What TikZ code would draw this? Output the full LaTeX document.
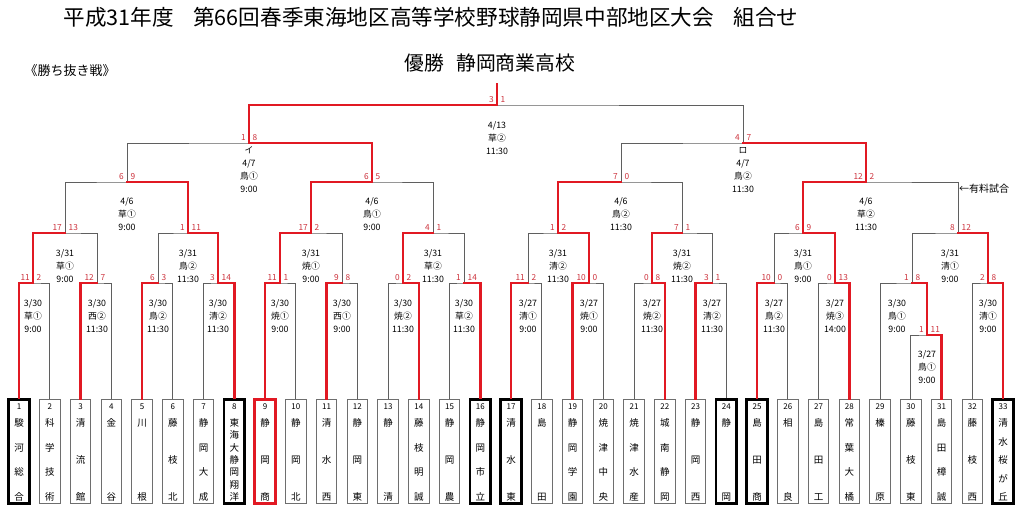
\documentclass[tikz,border=0pt]{standalone}
\usepackage{fontspec}
\setmainfont{Noto Sans CJK JP}
\definecolor{winred}{RGB}{225,25,35}
\definecolor{scorered}{RGB}{205,50,60}
\definecolor{rulegray}{RGB}{95,95,95}
\definecolor{boxgray}{RGB}{110,110,110}

% school names, one character under the other
\newcommand\stackchars[1]{\vbox to 81pt{\stackfirst#1\relax}}
\def\stackfirst#1{\stackcell{#1}\stacknext}
\def\stacknext#1{\ifx#1\relax\else\vfil\stackcell{#1}\expandafter\stacknext\fi}
\def\stackcell#1{\hbox to 12pt{\hss\vrule height 7pt depth 2pt width 0pt\smash{#1}\hss}}

\tikzset{
  bracket/.style={draw=rulegray, line width=0.75pt},
  win/.style={draw=winred, line width=2.5pt, line cap=rect},
  score/.style={text=scorered, font=\fontsize{8.3}{8.3}\selectfont, inner sep=0pt},
  info/.style={align=center, font=\fontsize{8.8}{13}\selectfont, inner sep=0pt},
  entry/.style={draw=boxgray, line width=0.8pt, minimum width=20.5pt, minimum height=104.5pt, inner sep=0pt},
  common/.style={},
  seeded/.style={draw=black, line width=2.6pt},
  champion/.style={draw=winred, line width=3pt},
  num/.style={font=\fontsize{8}{8}\selectfont, inner sep=0pt},
  chars/.style={font=\fontsize{9.5}{9.5}\selectfont, inner sep=0pt, anchor=north}
}

% match / left / right / winner (0 left, 1 right) / left score / right score
\def\bouts{z/t30.north/t31.north/1/1/11,
  a1/t1.north/t2.north/0/11/2, a2/t3.north/t4.north/0/12/7,
  a3/t5.north/t6.north/0/6/3, a4/t7.north/t8.north/1/3/14,
  a5/t9.north/t10.north/0/11/1, a6/t11.north/t12.north/0/9/8,
  a7/t13.north/t14.north/1/0/2, a8/t15.north/t16.north/1/1/14,
  a9/t17.north/t18.north/0/11/2, a10/t19.north/t20.north/0/10/0,
  a11/t21.north/t22.north/1/0/8, a12/t23.north/t24.north/0/3/1,
  a13/t25.north/t26.north/0/10/0, a14/t27.north/t28.north/1/0/13,
  a15/t29.north/z/1/1/8, a16/t32.north/t33.north/1/2/8,
  b1/a1/a2/0/17/13, b2/a3/a4/1/1/11, b3/a5/a6/0/17/2, b4/a7/a8/0/4/1,
  b5/a9/a10/1/1/2, b6/a11/a12/0/7/1, b7/a13/a14/1/6/9, b8/a15/a16/1/8/12,
  c1/b1/b2/1/6/9, c2/b3/b4/0/6/5, c3/b5/b6/0/7/0, c4/b7/b8/0/12/2,
  d1/c1/c2/1/1/8, d2/c3/c4/1/4/7,
  f/d1/d2/0/3/1}

\begin{document}
\begin{tikzpicture}[x=1pt,y=-1pt]
\useasboundingbox (0,0) rectangle (1024,511);
\fill[white] (0,0) rectangle (1024,511);

\node[font=\fontsize{21.6}{21.6}\selectfont] (title) at (431,17) {平成31年度\hspace{0.9em}第66回春季東海地区高等学校野球静岡県中部地区大会\hspace{0.9em}組合せ};
\node[font=\fontsize{19.8}{19.8}\selectfont] (winner) at (490,63) {優勝\hspace{0.6em}静岡商業高校};
\node[font=\fontsize{13}{13}\selectfont] (format) at (70,71) {《勝ち抜き戦》};
\node[font=\fontsize{10}{10}\selectfont] (paid) at (984,189) {←有料試合};

% schools
\foreach \i/\nm/\sty in {1/駿河総合/seeded, 2/科学技術/common, 3/清流館/common,
  4/金谷/common, 5/川根/common, 6/藤枝北/common, 7/静岡大成/common,
  8/東海大静岡翔洋/seeded, 9/静岡商/champion, 10/静岡北/common,
  11/清水西/common, 12/静岡東/common, 13/静清/common, 14/藤枝明誠/common,
  15/静岡農/common, 16/静岡市立/seeded, 17/清水東/seeded, 18/島田/common,
  19/静岡学園/common, 20/焼津中央/common, 21/焼津水産/common,
  22/城南静岡/common, 23/静岡西/common, 24/静岡/seeded, 25/島田商/seeded,
  26/相良/common, 27/島田工/common, 28/常葉大橘/common, 29/榛原/common,
  30/藤枝東/common, 31/島田樟誠/common, 32/藤枝西/common, 33/清水桜が丘/seeded}{
  \pgfmathsetmacro\bx{19+30.75*(\i-1)}
  \node[entry,\sty] (t\i) at (\bx,451.5) {};
  \node[num] (k\i) at (\bx,407) {\i};
  \node[chars] (c\i) at (\bx,419.4) {\expandafter\stackchars\expandafter{\nm}};
}

% matches: name / x / y / label x / label y / label
\foreach \n/\x/\y/\lx/\ly/\txt in {
  z/927/335/927/367/{3/27\\鳥①\\9:00},
  a1/33/283/33/316/{3/30\\草①\\9:00}, a2/97/283/97/316/{3/30\\西②\\11:30},
  a3/158/283/158/316/{3/30\\鳥②\\11:30}, a4/218/283/218/316/{3/30\\清②\\11:30},
  a5/280/283/280/316/{3/30\\焼①\\9:00}, a6/342/283/342/316/{3/30\\西①\\9:00},
  a7/403/283/403/316/{3/30\\焼②\\11:30}, a8/464/283/464/316/{3/30\\草②\\11:30},
  a9/528/283/528/316/{3/27\\清①\\9:00}, a10/589/283/589/316/{3/27\\焼①\\9:00},
  a11/652/283/652/316/{3/27\\焼②\\11:30}, a12/712/283/712/316/{3/27\\清②\\11:30},
  a13/774/283/774/316/{3/27\\鳥②\\11:30}, a14/835/283/835/316/{3/27\\焼③\\14:00},
  a15/912/283/897/316/{3/30\\鳥①\\9:00}, a16/988/283/988/316/{3/30\\清①\\9:00},
  b1/65/233/65/266/{3/31\\草①\\9:00}, b2/188/233/188/266/{3/31\\鳥②\\11:30},
  b3/311/233/311/266/{3/31\\焼①\\9:00}, b4/433/233/433/266/{3/31\\草②\\11:30},
  b5/558/233/558/266/{3/31\\清②\\11:30}, b6/682/233/682/266/{3/31\\焼②\\11:30},
  b7/803/233/803/266/{3/31\\鳥①\\9:00}, b8/958/233/950/266/{3/31\\清①\\9:00},
  c1/127/182/127/214/{4/6\\草①\\9:00}, c2/372/182/372/214/{4/6\\鳥①\\9:00},
  c3/621/182/621/214/{4/6\\鳥②\\11:30}, c4/866/182/866/214/{4/6\\草②\\11:30},
  d1/249/143/249/170/{イ\\4/7\\鳥①\\9:00}, d2/743/143/743/170/{ロ\\4/7\\鳥②\\11:30},
  f/497/105/497/138/{4/13\\草②\\11:30}}{
  \coordinate (\n) at (\x,\y);
  \node[info] (i\n) at (\lx,\ly) {\txt};
}
\coordinate (top) at (497,84);

\foreach \m/\l/\r/\w/\sl/\sr in \bouts
  \draw[bracket] (\l) |- (\m) -| (\r);

\foreach \m/\l/\r/\w/\sl/\sr in \bouts{
  \ifnum\w=0 \draw[win] (\l) |- (\m); \else \draw[win] (\r) |- (\m); \fi
  \node[score,anchor=base east] (\m-l) at ([xshift=-3pt,yshift=2.5pt]\m) {\sl};
  \node[score,anchor=base west] (\m-r) at ([xshift=3.5pt,yshift=2.5pt]\m) {\sr};
}
\draw[win] (f) -- (top);

\end{tikzpicture}
\end{document}
